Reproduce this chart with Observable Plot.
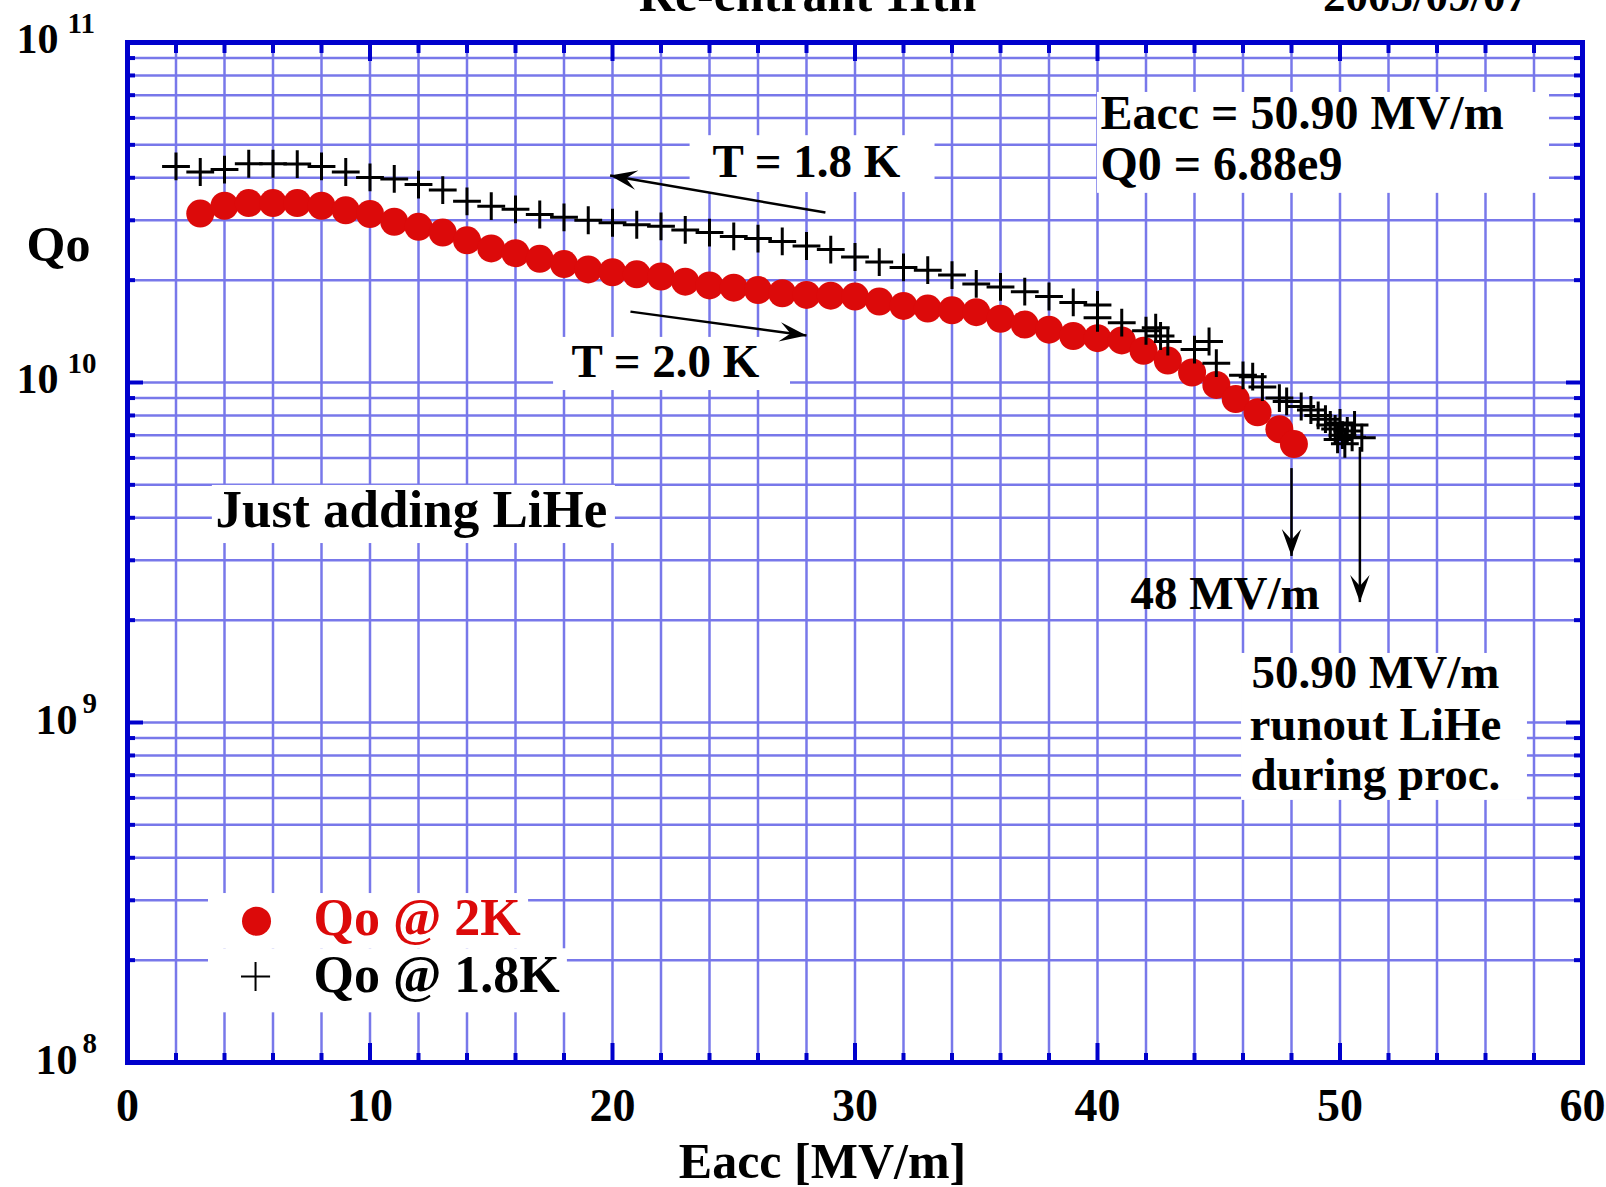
<!DOCTYPE html>
<html><head><meta charset="utf-8">
<script src="https://cdn.jsdelivr.net/npm/d3@7"></script>
<script src="https://cdn.jsdelivr.net/npm/@observablehq/plot@0.6"></script>
<style>body{margin:0;background:#fff;} svg{display:block}</style>
</head><body><div id="chart"></div>
<script>
// ---- data ----
const eacc2K = [3,4,5,6,7,8,9,10,11,12,13,14,15,16,17,18,19,20,21,22,23,24,25,26,27,28,29,30,31,32,33,34,35,36,37,38,39,40,41,41.9,42.9,43.9,44.9,45.7,46.6,47.5,48.1];
const q2K = [3.14e10,3.31e10,3.37e10,3.37e10,3.37e10,3.31e10,3.21e10,3.13e10,2.97e10,2.87e10,2.76e10,2.62e10,2.48e10,2.40e10,2.31e10,2.23e10,2.15e10,2.11e10,2.08e10,2.05e10,1.98e10,1.93e10,1.90e10,1.87e10,1.83e10,1.81e10,1.80e10,1.79e10,1.73e10,1.68e10,1.65e10,1.63e10,1.61e10,1.54e10,1.48e10,1.43e10,1.37e10,1.35e10,1.33e10,1.24e10,1.16e10,1.07e10,9.84e9,8.94e9,8.17e9,7.29e9,6.59e9];
const eacc18K = [2,3,4,5,6,7,8,9,10,11,12,13,14,15,16,17,18,19,20,21,22,23,24,25,26,27,28,29,30,31,32,33,34,35,36,37,38,39,40,40,41,42,42.4,42.6,42.9,44.0,44.6,44.9,46.0,46.4,46.8,47.5,47.8,48.4,48.8,49.1,49.4,49.6,49.8,50.0,50.1,50.3,50.5,50.6,50.9,49.9,50.2];
const q18K = [4.32e10,4.16e10,4.23e10,4.40e10,4.40e10,4.39e10,4.32e10,4.16e10,4.01e10,3.97e10,3.82e10,3.68e10,3.41e10,3.30e10,3.23e10,3.12e10,3.06e10,3.00e10,2.95e10,2.91e10,2.88e10,2.81e10,2.76e10,2.69e10,2.65e10,2.60e10,2.52e10,2.46e10,2.34e10,2.26e10,2.18e10,2.14e10,2.07e10,1.95e10,1.91e10,1.85e10,1.79e10,1.72e10,1.69e10,1.55e10,1.50e10,1.42e10,1.45e10,1.37e10,1.32e10,1.25e10,1.32e10,1.14e10,1.05e10,1.04e10,9.7e9,9.0e9,8.8e9,8.5e9,8.3e9,8.0e9,7.8e9,7.5e9,7.3e9,7.6e9,7.0e9,7.2e9,6.9e9,7.5e9,6.88e9,6.8e9,6.6e9];
const xTickLabels = [0,10,20,30,40,50,60];
const yDecades = [1e8,1e9,1e10,1e11];
const seriesNames = ["Qo @ 2K","Qo @ 1.8K"];
const titleText = "Re-entrant 11th";
const dateText = "2005/09/07";
const xLabel = "Eacc [MV/m]";
const yLabel = "Qo";

// ---- derived tables ----
const d2K = eacc2K.map((e,i) => ({e, q: q2K[i]}));
const d18K = eacc18K.map((e,i) => ({e, q: q18K[i]}));
const xGrid = d3.range(2, 60, 2);
const xMajor = [10,20,30,40,50];
const xMinor = xGrid.filter(d => d % 10 !== 0);
const yMinor = [1e8,1e9,1e10].flatMap(d => d3.range(2,10).map(m => m*d));
const yMajor = [1e9,1e10];
const yGrid = yMinor.concat(yMajor);

const W = 1606, H = 1187, ML = 127, MR = 24, MT = 42, MB = 125;
const FH = H - MT - MB, FW = W - ML - MR;
const RED = "#dc0a0a", BLUE = "#0000cc", GRID = "#7878ea";
const FONT = "Liberation Serif, 'Times New Roman', serif";
const T = {fontFamily: FONT, fontWeight: "bold", fill: "black", lineAnchor: "bottom"};

const labelBoxes = [
  {x1: 40.0, x2: 58.64, y1: 3.60e10, y2: 7.13e10},
  {x1: 23.2, x2: 33.3, y1: 3.62e10, y2: 5.32e10},
  {x1: 17.57, x2: 27.34, y1: 9.47e9, y2: 1.357e10},
  {x1: 3.5, x2: 20.12, y1: 3.36e9, y2: 4.98e9},
  {x1: 45.94, x2: 57.73, y1: 5.90e8, y2: 1.596e9},
  {x1: 3.34, x2: 16.54, y1: 2.16e8, y2: 3.14e8},
  {x1: 3.34, x2: 18.14, y1: 1.40e8, y2: 2.16e8}
];
const arrows = [
  {x1: 28.78, y1: 3.16e10, x2: 19.9, y2: 4.06e10},
  {x1: 20.74, y1: 1.616e10, x2: 28.0, y2: 1.374e10},
  {x1: 48.0, y1: 5.6e9, x2: 48.0, y2: 3.09e9},
  {x1: 50.82, y1: 6.46e9, x2: 50.82, y2: 2.26e9}
];
// direction of each arrow on screen (degrees clockwise from up)
const arrowAngle = d => {
  const dx = (d.x2 - d.x1) * FW / 60;
  const dy = -(Math.log10(d.y2) - Math.log10(d.y1)) * FH / 3;
  return Math.atan2(dx, -dy) * 180 / Math.PI;
};
// barbed arrowhead: tip at the origin, pointing up
const barb = {draw(ctx, size) {
  const L = Math.sqrt(size / Math.PI), w = L * 0.36;
  ctx.moveTo(0, 0); ctx.lineTo(w, L); ctx.lineTo(0, 0.6 * L); ctx.lineTo(-w, L); ctx.closePath();
}};

const plot = Plot.plot({
  width: W, height: H,
  marginLeft: ML, marginRight: MR, marginTop: MT, marginBottom: MB,
  x: {domain: [0, 60], axis: null},
  y: {type: "log", domain: [1e8, 1e11], axis: null},
  style: {fontFamily: FONT, background: "white", overflow: "visible"},
  marks: [
    Plot.ruleX(xGrid, {x: d => d, stroke: GRID, strokeWidth: 2.5}),
    Plot.ruleY(yGrid, {y: d => d, stroke: GRID, strokeWidth: 2.5}),
    Plot.rect(labelBoxes, {x1: "x1", x2: "x2", y1: "y1", y2: "y2", fill: "white"}),
    // ticks (inward)
    Plot.ruleX(xMinor, {x: d => d, insetTop: FH - 9, stroke: BLUE, strokeWidth: 4}),
    Plot.ruleX(xMinor, {x: d => d, insetBottom: FH - 11, stroke: BLUE, strokeWidth: 4}),
    Plot.ruleX(xMajor, {x: d => d, insetTop: FH - 19, stroke: BLUE, strokeWidth: 4}),
    Plot.ruleX(xMajor, {x: d => d, insetBottom: FH - 19, stroke: BLUE, strokeWidth: 4}),
    Plot.ruleY(yMinor, {y: d => d, insetRight: FW - 8, stroke: BLUE, strokeWidth: 4}),
    Plot.ruleY(yMinor, {y: d => d, insetLeft: FW - 8, stroke: BLUE, strokeWidth: 4}),
    Plot.ruleY(yMajor, {y: d => d, insetRight: FW - 16, stroke: BLUE, strokeWidth: 4}),
    Plot.ruleY(yMajor, {y: d => d, insetLeft: FW - 16, stroke: BLUE, strokeWidth: 4}),
    Plot.frame({stroke: BLUE, strokeWidth: 5}),
    // data
    Plot.dot(d2K, {x: "e", y: "q", r: 14, fill: RED, stroke: "none"}),
    Plot.dot(d18K, {x: "e", y: "q", symbol: "plus", r: 9, stroke: "black", fill: "none", strokeWidth: 3}),
    // arrows
    Plot.link(arrows, {x1: "x1", y1: "y1", x2: "x2", y2: "y2", stroke: "black", strokeWidth: 2.5}),
    Plot.dot(arrows, {x: "x2", y: "y2", symbol: barb, r: 27, fill: "black", stroke: "none", rotate: arrowAngle}),
    // annotations
    Plot.text(["Eacc = 50.90 MV/m"], {...T, x: 40.12, y: 5.55e10, textAnchor: "start", fontSize: 48}),
    Plot.text(["Q0 = 6.88e9"], {...T, x: 40.12, y: 3.93e10, textAnchor: "start", fontSize: 48}),
    Plot.text(["T = 1.8 K"], {...T, x: 24.12, y: 4.01e10, textAnchor: "start", fontSize: 47}),
    Plot.text(["T = 2.0 K"], {...T, x: 18.31, y: 1.04e10, textAnchor: "start", fontSize: 47}),
    Plot.text(["Just adding LiHe"], {...T, x: 3.63, y: 3.75e9, textAnchor: "start", fontSize: 53}),
    Plot.text(["48 MV/m"], {...T, x: 41.36, y: 2.16e9, textAnchor: "start", fontSize: 47}),
    Plot.text(["50.90 MV/m"], {...T, x: 51.46, y: 1.259e9, textAnchor: "middle", fontSize: 47}),
    Plot.text(["runout LiHe"], {...T, x: 51.46, y: 8.86e8, textAnchor: "middle", fontSize: 47}),
    Plot.text(["during proc."], {...T, x: 51.46, y: 6.31e8, textAnchor: "middle", fontSize: 47}),
    // legend
    Plot.dot([0], {x: 5.32, y: 2.605e8, r: 14.5, fill: RED, stroke: "none"}),
    Plot.dot([0], {x: 5.28, y: 1.79e8, symbol: "plus", r: 9.4, stroke: "black", fill: "none", strokeWidth: 2}),
    Plot.text([seriesNames[0]], {...T, x: 7.67, y: 2.364e8, textAnchor: "start", fontSize: 52, fill: RED}),
    Plot.text([seriesNames[1]], {...T, x: 7.67, y: 1.61e8, textAnchor: "start", fontSize: 52}),
    // axes labels
    Plot.text(xTickLabels, {...T, x: d => d, text: d => String(d), frameAnchor: "bottom", dy: 58, textAnchor: "middle", fontSize: 46}),
    Plot.text(yDecades.filter(d => d >= 1e10), {...T, y: d => d, text: () => "10", frameAnchor: "left", dx: -69, dy: 10, textAnchor: "end", fontSize: 42}),
    Plot.text(yDecades.filter(d => d >= 1e10), {...T, y: d => d, text: d => String(Math.round(Math.log10(d))), frameAnchor: "left", dx: -60, dy: -10, textAnchor: "start", fontSize: 29}),
    Plot.text(yDecades.filter(d => d < 1e10), {...T, y: d => d, text: () => "10", frameAnchor: "left", dx: -50, dy: 11, textAnchor: "end", fontSize: 42}),
    Plot.text(yDecades.filter(d => d < 1e10), {...T, y: d => d, text: d => String(Math.round(Math.log10(d))), frameAnchor: "left", dx: -45, dy: -10, textAnchor: "start", fontSize: 29}),
    Plot.text([xLabel], {...T, frameAnchor: "top-left", dx: 822 - ML, dy: 1177 - MT, textAnchor: "middle", fontSize: 50}),
    Plot.text([yLabel], {...T, frameAnchor: "top-left", dx: 58 - ML, dy: 260 - MT, textAnchor: "middle", fontSize: 50}),
    Plot.text([titleText], {...T, frameAnchor: "top-left", dx: 807 - ML, dy: 10 - MT, textAnchor: "middle", fontSize: 50}),
    Plot.text([dateText], {...T, frameAnchor: "top-left", dx: 1425 - ML, dy: 10 - MT, textAnchor: "middle", fontSize: 45})
  ]
});
document.getElementById("chart").appendChild(plot);
</script>
</body></html>
